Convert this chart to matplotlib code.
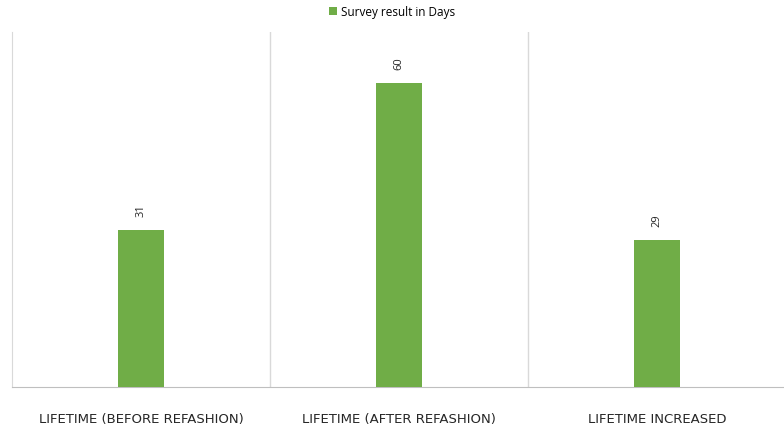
import matplotlib.pyplot as plt
import numpy as np

categories = [
    "LIFETIME (BEFORE REFASHION)",
    "LIFETIME (AFTER REFASHION)",
    "LIFETIME INCREASED",
]
days = [31, 60, 29]
series_name = "Survey result in Days"

GREEN = "#70AD47"
GRID = "#d9d9d9"

fig = plt.figure(figsize=(7.84, 4.31), dpi=100)
ax = fig.add_axes([0.0153, 0.0998, 0.987, 0.8236])

x = np.arange(len(categories))
bars = ax.bar(x, days, width=0.18, color=GREEN, label=series_name, zorder=3)

for bar, v in zip(bars, days):
    ax.annotate(
        f"{v}",
        xy=(bar.get_x() + bar.get_width() / 2, bar.get_height()),
        xytext=(0, 10),
        textcoords="offset points",
        ha="center",
        va="bottom",
        rotation=90,
        fontsize=8,
        color="#262626",
        family="Open Sans",
    )

ax.set_xlim(-0.5, len(categories) - 0.5)
ax.set_ylim(0, 70)
for b in np.arange(0.5, len(categories) - 0.5, 1.0):
    ax.axvline(b, color=GRID, lw=1, zorder=1)

for side in ["top", "right"]:
    ax.spines[side].set_visible(False)
ax.spines["left"].set_color(GRID)
ax.spines["bottom"].set_color("#bfbfbf")
ax.set_yticks([])
ax.set_xticks(x)
ax.set_xticklabels(categories, fontsize=9.5, color="#262626", family="DejaVu Sans")
ax.tick_params(axis="x", length=0, pad=18)

fig.legend(
    loc="upper center",
    bbox_to_anchor=(0.5, 1.01),
    frameon=False,
    handlelength=0.7,
    handleheight=0.7,
    handletextpad=0.3,
    prop={"family": "Open Sans", "size": 8.5},
)

fig.savefig("out.png", dpi=100)
